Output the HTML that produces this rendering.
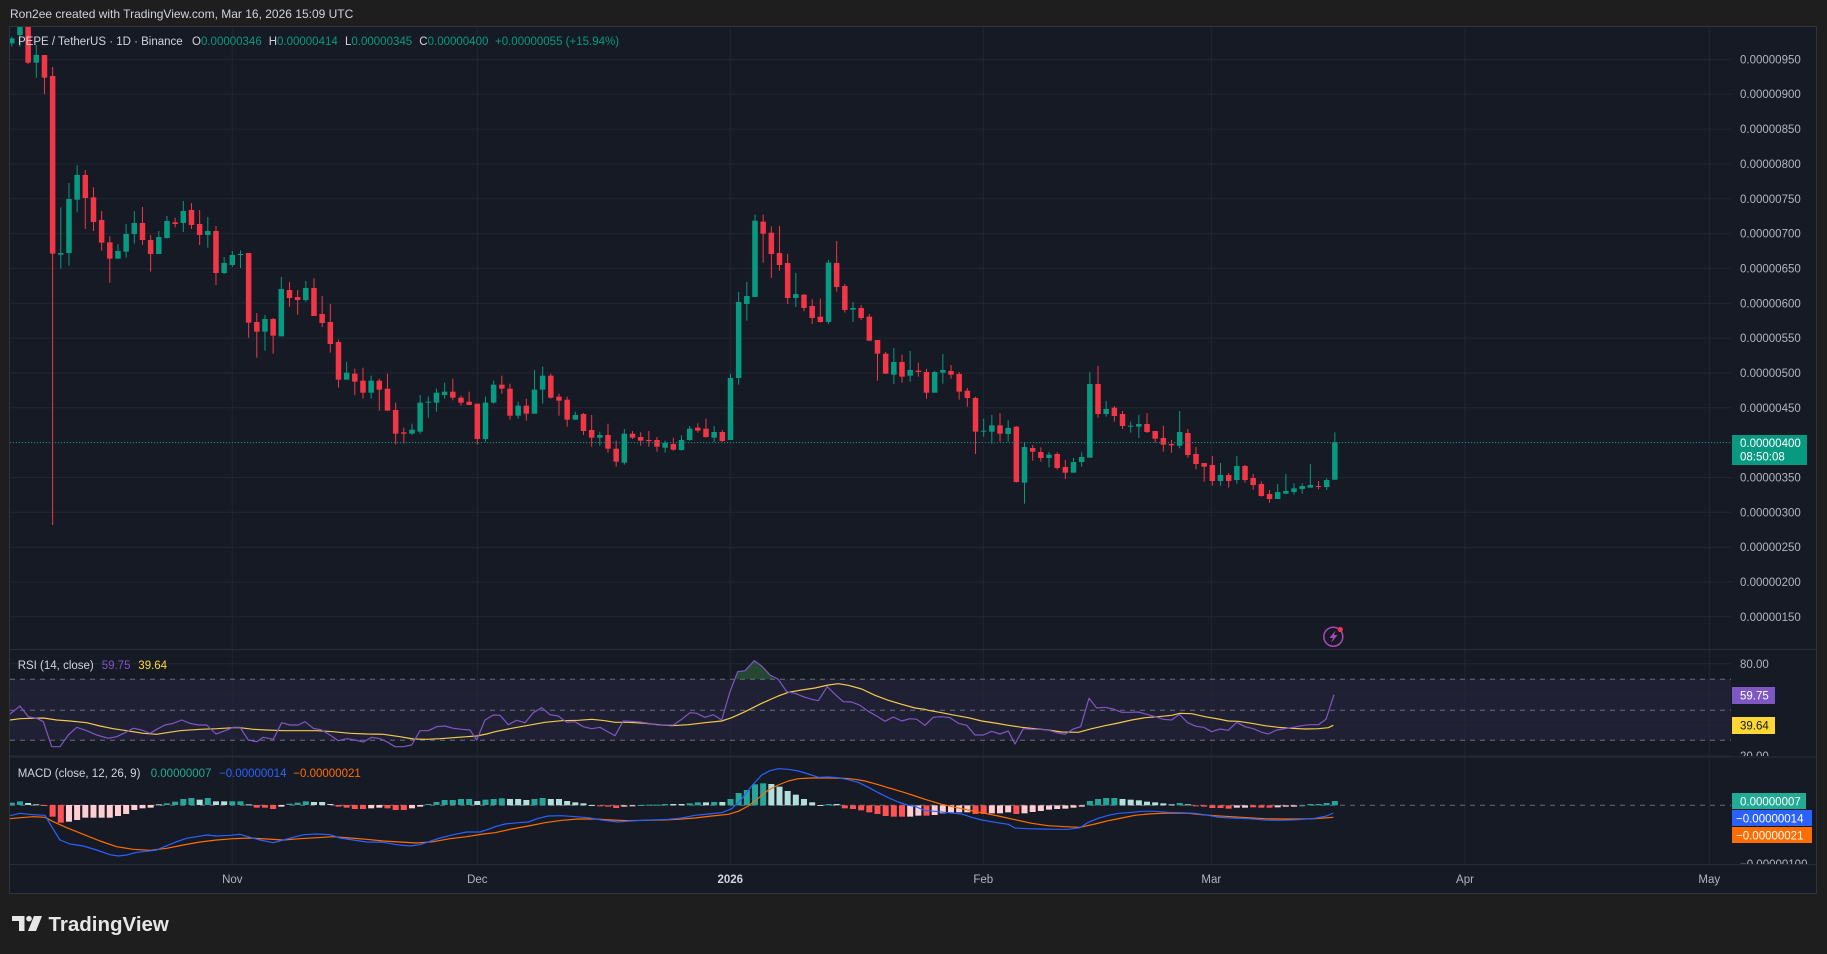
<!DOCTYPE html>
<html><head><meta charset="utf-8">
<style>
html,body{margin:0;padding:0;background:#1e1e1e;width:1827px;height:954px;overflow:hidden;}
svg{display:block}
text{font-family:"Liberation Sans",sans-serif;}
</style></head><body>
<svg id="s" width="1827" height="954" xmlns="http://www.w3.org/2000/svg">
<defs>
<clipPath id="cp"><rect x="10" y="27" width="1721" height="622"/></clipPath>
<clipPath id="cr"><rect x="10" y="650" width="1721" height="106"/></clipPath>
<clipPath id="cm"><rect x="10" y="758" width="1721" height="106"/></clipPath>
<clipPath id="ca"><rect x="1731" y="650" width="85" height="106"/></clipPath>
<clipPath id="cma"><rect x="1731" y="758" width="85" height="106"/></clipPath>
</defs>
<rect x="0" y="0" width="1827" height="954" fill="#1e1e1e"/>
<text x="10" y="18" fill="#d1d4dc" font-size="12">Ron2ee created with TradingView.com, Mar 16, 2026 15:09 UTC</text>
<rect x="9.5" y="26.5" width="1807" height="867" fill="#161a25" stroke="#30343f"/>
<!-- RSI band -->
<rect x="10" y="679.3" width="1721" height="61" fill="rgba(126,87,194,0.1)"/>
<g id="grid"></g>
<g id="candles" clip-path="url(#cp)"></g>
<line x1="10" x2="1731" y1="442.6" y2="442.6" stroke="#089981" stroke-width="1" stroke-dasharray="1,2"/>
<g id="rsi" clip-path="url(#cr)"></g>
<g id="macd" clip-path="url(#cm)"></g>

<!-- lightning icon -->
<circle cx="1333.3" cy="636.7" r="9.5" fill="none" stroke="#ab47bc" stroke-width="1.5"/>
<path d="M1335.5,630.5 L1329.5,638 L1333,638 L1331,643 L1337.5,635 L1334,635 Z" fill="#ab47bc"/>
<circle cx="1340.3" cy="629.5" r="2.6" fill="#f23645"/>

<!-- legend -->
<text x="18" y="45" font-size="11.5" fill="#d1d4dc">PEPE / TetherUS · 1D · Binance</text>
<text x="192" y="45" font-size="11.5" fill="#d1d4dc">O<tspan fill="#089981">0.00000346</tspan></text>
<text x="268.7" y="45" font-size="11.5" fill="#d1d4dc">H<tspan fill="#089981">0.00000414</tspan></text>
<text x="345" y="45" font-size="11.5" fill="#d1d4dc">L<tspan fill="#089981">0.00000345</tspan></text>
<text x="419.3" y="45" font-size="11.5" fill="#d1d4dc">C<tspan fill="#089981">0.00000400</tspan></text>
<text x="495" y="45" font-size="11.5" fill="#089981">+0.00000055 (+15.94%)</text>

<!-- price axis -->
<g font-size="11.5" fill="#b2b5be">
<text x="1740" y="63.4">0.00000950</text>
<text x="1740" y="98.2">0.00000900</text>
<text x="1740" y="133.1">0.00000850</text>
<text x="1740" y="167.9">0.00000800</text>
<text x="1740" y="202.8">0.00000750</text>
<text x="1740" y="237.6">0.00000700</text>
<text x="1740" y="272.4">0.00000650</text>
<text x="1740" y="307.3">0.00000600</text>
<text x="1740" y="342.1">0.00000550</text>
<text x="1740" y="377">0.00000500</text>
<text x="1740" y="411.8">0.00000450</text>
<text x="1740" y="481.5">0.00000350</text>
<text x="1740" y="516.3">0.00000300</text>
<text x="1740" y="551.2">0.00000250</text>
<text x="1740" y="586">0.00000200</text>
<text x="1740" y="620.8">0.00000150</text>
</g>
<rect x="1732" y="435" width="75" height="30" fill="#089981"/>
<text x="1740" y="447" font-size="11.5" fill="#ffffff">0.00000400</text>
<text x="1740" y="460.5" font-size="11.5" fill="#ffffff">08:50:08</text>

<!-- RSI axis -->
<g clip-path="url(#ca)" font-size="11.5" fill="#b2b5be">
<text x="1740" y="668">80.00</text>
<text x="1740" y="760">20.00</text>
</g>
<rect x="1732" y="687" width="43" height="17" fill="#7e57c2"/>
<text x="1740" y="699.5" font-size="11.5" fill="#ffffff">59.75</text>
<rect x="1732" y="717" width="43" height="17" fill="#fdd835"/>
<text x="1740" y="729.5" font-size="11.5" fill="#131722">39.64</text>

<!-- MACD axis -->
<g clip-path="url(#cma)" font-size="11.5" fill="#b2b5be">
<text x="1740" y="868">−0.00000100</text>
</g>
<rect x="1732" y="793" width="74" height="16" fill="#22ab94"/>
<text x="1740" y="805.5" font-size="11.5" fill="#ffffff">0.00000007</text>
<rect x="1732" y="810" width="80" height="16" fill="#2962ff"/>
<text x="1736" y="822.5" font-size="11.5" fill="#ffffff">−0.00000014</text>
<rect x="1732" y="827" width="80" height="16" fill="#ff6d00"/>
<text x="1736" y="839.5" font-size="11.5" fill="#ffffff">−0.00000021</text>

<!-- indicator legends -->
<text x="17.7" y="669" font-size="11.5" fill="#d1d4dc">RSI (14, close)</text>
<text x="101.7" y="669" font-size="11.5" fill="#7e57c2">59.75</text>
<text x="138.3" y="669" font-size="11.5" fill="#fdd835">39.64</text>
<text x="17.7" y="777" font-size="11.5" fill="#d1d4dc">MACD (close, 12, 26, 9)</text>
<text x="150.7" y="777" font-size="11.5" fill="#22ab94">0.00000007</text>
<text x="219" y="777" font-size="11.5" fill="#2962ff">−0.00000014</text>
<text x="293.3" y="777" font-size="11.5" fill="#ff6d00">−0.00000021</text>

<!-- time axis -->
<g font-size="11.5" fill="#b2b5be" text-anchor="middle">
<text x="232.3" y="883">Nov</text>
<text x="477.3" y="883">Dec</text>
<text x="730.3" y="883" font-weight="bold" fill="#d1d4dc">2026</text>
<text x="983.3" y="883">Feb</text>
<text x="1211.3" y="883">Mar</text>
<text x="1465" y="883">Apr</text>
<text x="1709.3" y="883">May</text>
</g>

<!-- TradingView logo -->
<g fill="#e6e6e6">
<path d="M12,916 L24.5,916 L24.5,931 L19,931 L19,921 L12,921 Z"/>
<circle cx="29" cy="918.7" r="2.8"/>
<path d="M34,916 L42,916 L36,931 L28,931 Z"/>
</g>
<text x="48.5" y="931" font-size="20.5" font-weight="bold" fill="#e6e6e6">TradingView</text>
</svg>
<script>
const NS='http://www.w3.org/2000/svg';
function add(p,tag,a){const e=document.createElementNS(NS,tag);for(const k in a)e.setAttribute(k,a[k]);p.appendChild(e);return e;}
const gG=document.getElementById('grid'),gC=document.getElementById('candles'),gR=document.getElementById('rsi'),gM=document.getElementById('macd');
const D=8.167,X0=11.8;const cx=i=>X0+D*i;
// grid
for(let k=0;k<=16;k++){const y=(59.4+k*34.84).toFixed(1);add(gG,'line',{x1:10,x2:1731,y1:y,y2:y,stroke:'#222632','stroke-width':1});}
[232.3,477.3,730.3,983.3,1211.3,1465,1709.3].forEach(x=>add(gG,'line',{x1:x,x2:x,y1:27,y2:864,stroke:'#222632','stroke-width':1}));
[663.8,694.3,725.3,755.8].forEach(y=>add(gG,'line',{x1:10,x2:1731,y1:y,y2:y,stroke:'#222632','stroke-width':1}));
[649.5,757,864.5].forEach(y=>add(gG,'line',{x1:10,x2:1816,y1:y,y2:y,stroke:'#2a2e39','stroke-width':1}));
[679.3,710.3,740.3].forEach(y=>add(gG,'line',{x1:10,x2:1731,y1:y,y2:y,stroke:'#6a6d78','stroke-width':1,'stroke-dasharray':'5,5'}));
add(gG,'line',{x1:10,x2:1731,y1:805.3,y2:805.3,stroke:'#6a6d78','stroke-width':1,'stroke-dasharray':'5,5'});

const A=[[0,'g',40,55,35,65],[1,'g',0,30,-10,65],[2,'r',0,113,-10,117],[3,'g',90,113,60,158],[4,'r',90,158,90,207],[5,'r',153,686,126,1500],[6,'g',684,689,547,731],[7,'g',522,684,474,722],[8,'g',450,524,420,562],[9,'r',450,519,435,612],[10,'r',517,591,487,618],[11,'r',585,653,558,677],[12,'r',652,701,634,773],[13,'g',678,701,657,701],[14,'g',627,680,597,698],[15,'g',594,627,558,656],[16,'r',594,645,546,660],[17,'r',645,687,630,740],[18,'g',636,687,618,687],[19,'g',588,639,573,641],[20,'r',592,597,578,607],[21,'g',558,594,528,621],[22,'r',555,600,534,612],[23,'r',597,630,555,660],[24,'g',618,630,576,668],[25,'r',618,744,603,780],[26,'g',714,744,696,747],[27,'g',690,720,678,726],[28,'g',687,690,676,729],[29,'r',684,893,684,938],[30,'r',891,920,864,998],[31,'g',882,920,870,977],[32,'r',882,932,879,986],[33,'g',792,934,756,934],[34,'r',795,819,771,845],[35,'r',816,825,795,869],[36,'g',789,825,768,830],[37,'r',789,873,760,873],[38,'r',867,894,813,906],[39,'r',891,957,837,983],[40,'r',951,1064,944,1088]];
const B=[[41,'g',1043,1064,1010,1064],[42,'r',1046,1070,1031,1110],[43,'r',1067,1103,1028,1121],[44,'g',1067,1103,1052,1121],[45,'r',1067,1094,1061,1157],[46,'r',1091,1157,1046,1157],[47,'r',1155,1226,1133,1258],[48,'r',1222,1226,1208,1256],[49,'g',1214,1226,1196,1230],[50,'g',1133,1220,1110,1226],[51,'g',1130,1133,1114,1178],[52,'g',1103,1133,1091,1160],[53,'g',1100,1110,1073,1121],[54,'r',1100,1118,1061,1126],[55,'r',1118,1133,1112,1142],[56,'r',1130,1140,1100,1140],[57,'r',1136,1242,1136,1259],[58,'g',1133,1242,1115,1250],[59,'g',1079,1133,1067,1136],[60,'r',1079,1091,1052,1106],[61,'r',1091,1172,1076,1184],[62,'g',1142,1172,1130,1181],[63,'r',1142,1166,1121,1187],[64,'g',1094,1166,1035,1166],[65,'g',1052,1094,1025,1136],[66,'r',1052,1118,1046,1121],[67,'r',1115,1127,1106,1172],[68,'r',1124,1184,1115,1205],[69,'g',1170,1184,1160,1184],[70,'r',1167,1218,1164,1230],[71,'r',1215,1238,1170,1265],[72,'g',1230,1238,1220,1262],[73,'r',1230,1271,1196,1283],[74,'r',1271,1310,1247,1325],[75,'g',1226,1313,1212,1319],[76,'r',1226,1238,1218,1242],[77,'r',1236,1247,1222,1262],[78,'r',1245,1248,1218,1265],[79,'r',1245,1265,1236,1280],[80,'g',1254,1268,1247,1283],[81,'r',1257,1274,1238,1277]];
const C=[[82,'g',780,810,766,812],[83,'g',746,780,738,782],[84,'r',743,752,730,758],[85,'r',746,771,716,773],[86,'g',756,773,738,786],[87,'r',756,783,750,786],[88,'g',594,780,582,780],[89,'g',366,594,336,614],[90,'g',348,372,306,422],[91,'g',122,351,104,351],[92,'r',125,161,104,248],[93,'r',158,222,139,294],[94,'r',219,255,138,272],[95,'r',249,354,222,372],[96,'g',342,354,279,381],[97,'r',344,384,342,394],[98,'r',378,414,358,432],[99,'r',410,426,356,428],[100,'g',248,426,240,432],[101,'r',249,321,183,335],[102,'r',318,390,312,398],[103,'g',384,389,366,426],[104,'r',384,414,375,420],[105,'r',410,482,402,482],[106,'r',480,521,480,602],[107,'r',521,581,516,582],[108,'g',546,584,504,612],[109,'r',546,590,524,608],[110,'g',570,587,513,605],[111,'r',572,576,548,590],[112,'r',576,638,567,656],[113,'g',576,638,573,638],[114,'g',570,578,522,611],[115,'r',573,584,555,596],[116,'r',582,635,576,659],[117,'r',632,654,624,680],[118,'r',654,755,650,822],[119,'g',752,755,716,770],[120,'g',736,755,705,791],[121,'r',736,761,699,785]];
const Dd=[[122,'g',219,237,196,260],[123,'r',215,381,213,383],[124,'g',276,383,262,446],[125,'r',279,290,270,317],[126,'r',291,309,277,320],[127,'g',299,309,291,337],[128,'r',297,339,292,344],[129,'r',336,353,315,372],[130,'g',321,353,309,353],[131,'g',306,321,292,335],[132,'g',87,308,51,308],[133,'r',87,177,33,188],[134,'g',162,177,138,185],[135,'r',158,183,153,200],[136,'r',177,213,168,222],[137,'g',212,215,200,233],[138,'g',207,215,180,249],[139,'r',207,231,174,234],[140,'r',228,251,228,263],[141,'r',249,269,212,290],[142,'r',267,271,255,293],[143,'g',231,272,168,280],[144,'r',234,300,222,308],[145,'r',297,327,276,343],[146,'r',324,335,324,380],[147,'r',330,378,303,392],[148,'g',360,378,324,392],[149,'r',360,378,354,398],[150,'g',333,375,303,386],[151,'r',333,375,330,383],[152,'r',369,390,357,404],[153,'r',387,423,379,425],[154,'r',417,432,405,443],[155,'g',411,432,387,432],[156,'g',408,416,357,418],[157,'g',400,411,385,419],[158,'g',393,402,385,416],[159,'g',390,398,327,398],[160,'r',393,396,378,403],[161,'g',375,396,370,405],[162,'g',262,374,232,375]];
[[25,A],[25,B],[180,C],[355,Dd]].forEach(([oy,arr])=>arr.forEach(c=>{
 const [i,col,bt,bb,wt,wb]=c;const x=cx(i);const color=col=='g'?'#089981':'#f23645';const y=v=>oy+v/3;
 add(gC,'rect',{x:(x-0.5).toFixed(2),y:y(wt).toFixed(2),width:1,height:Math.max(1,y(wb)-y(wt)).toFixed(2),fill:color});
 add(gC,'rect',{x:(x-2.75).toFixed(2),y:y(bt).toFixed(2),width:5.5,height:Math.max(1,y(bb)-y(bt)).toFixed(2),fill:color});
}));

function line(p,segs,color,w){const pts=[];segs.forEach(([ox,oy,arr])=>arr.forEach(([zx,zy])=>pts.push((ox+zx/3).toFixed(1)+','+(oy+zy/3).toFixed(1))));add(p,'polyline',{points:pts.join(' '),fill:'none',stroke:color,'stroke-width':w,'stroke-linejoin':'round'});}
function poly(p,ox,oy,arr,fill){add(p,'polygon',{points:arr.map(([zx,zy])=>(ox+zx/3).toFixed(1)+','+(oy+zy/3).toFixed(1)).join(' '),fill:fill});}

// RSI overbought fill
poly(gR,495,650,[[722,88],[728,65],[750,62],[778,32],[800,48],[825,75],[838,88]],'rgba(76,175,80,0.3)');
// RSI MA
line(gR,[[0,640,[[30,240],[60,236],[90,235],[130,234],[170,240],[210,243],[260,248],[300,258],[340,266],[380,272],[430,280],[470,283],[500,278],[540,272],[600,268],[650,266],[700,263],[720,263],[760,268],[800,270],[850,272],[900,272],[950,272],[1000,275],[1050,280],[1100,282],[1150,283],[1200,290],[1240,297],[1280,298],[1320,296],[1360,293],[1400,290],[1430,288],[1460,282]]],
[495,650,[[0,245],[50,235],[100,226],[150,217],[200,212],[250,211],[290,208],[330,212],[360,217],[400,217],[450,220],[500,225],[530,227],[580,224],[630,218],[680,213],[710,203],[750,185],[800,160],[850,138],[880,127],[920,120],[960,114],[1000,105],[1030,101],[1060,106],[1100,117],[1140,136],[1180,151],[1220,163],[1260,174]]],
[915,650,[[30,178],[40,181],[80,188],[120,196],[160,203],[200,213],[240,219],[280,226],[320,232],[360,236],[400,240],[440,246],[490,247],[530,236],[570,227],[610,219],[650,210],[690,203],[730,200],[770,196],[795,190],[830,191],[870,200],[910,207],[940,213],[970,214],[1010,220],[1050,227],[1090,232],[1130,235],[1170,237],[1210,236],[1240,233],[1255,226]]]],'#f2c94c',1.2);
// RSI
line(gR,[[0,640,[[30,222],[60,198],[85,230],[110,235],[130,245],[155,320],[180,320],[205,285],[230,262],[260,272],[290,285],[325,295],[350,290],[375,278],[400,265],[425,270],[450,280],[470,268],[495,255],[520,250],[545,240],[570,250],[595,255],[620,255],[648,282],[675,272],[700,262],[720,262],[745,300],[770,305],[790,292],[820,298],[845,248],[870,255],[895,255],[915,245],[940,265],[965,270],[990,285],[1015,302],[1040,296],[1065,300],[1090,306],[1115,292],[1140,296],[1160,305],[1185,320],[1210,320],[1235,315],[1260,272],[1285,272],[1310,260],[1335,258],[1360,265],[1385,268],[1410,270],[1430,300],[1455,240],[1480,225]]],
[495,650,[[15,196],[40,224],[65,211],[90,218],[115,188],[140,173],[165,194],[190,198],[215,217],[240,215],[265,230],[290,236],[315,232],[340,246],[360,257],[385,213],[410,214],[435,216],[460,220],[485,224],[510,226],[535,225],[560,208],[585,188],[605,190],[630,202],[655,194],[680,210],[705,125],[728,65],[750,62],[778,32],[800,48],[825,75],[850,88],[875,125],[900,130],[925,140],[950,148],[970,152],[997,110],[1020,133],[1045,155],[1070,156],[1095,166],[1120,184],[1145,198],[1170,214],[1195,201],[1220,213],[1245,206],[1265,208]]],
[915,650,[[30,226],[55,202],[80,200],[105,203],[130,220],[155,226],[180,255],[205,255],[230,244],[255,252],[280,243],[300,282],[325,236],[350,238],[375,238],[400,240],[425,248],[450,253],[475,237],[497,230],[522,145],[545,174],[570,172],[595,177],[620,187],[645,187],[670,186],[695,193],[720,200],[745,208],[770,210],[793,193],[818,218],[843,229],[866,232],[890,245],[915,237],[940,241],[965,217],[990,230],[1015,236],[1040,247],[1060,252],[1085,240],[1110,236],[1135,232],[1160,227],[1185,224],[1210,224],[1233,208],[1257,134]]]],'#7e57c2',1.2);

// MACD histogram
const HC={T:'#26a69a',t:'#b2dfdb',R:'#ff5252',P:'#ffcdd2'};
const H=[[640,495,'T488 T484 t489 t493 R497 R530 R548 P545 P540 P533 P533 P533 P533 P528 P522 P510 P505 P503 t493 T490 T485 T477 T474 t479 T474 t484 t484 T484 T484 t493 R503 R503 R507 P500 T491 T488 T484 t486 t486 t492 R500 R503 R507 R507 P505 P503 R505 R510 R510 P505 P500 T492 T486 T480 T480 T477 T477 t483 T479 T477',0],
[650,466,'T445 t447 t447 t450 T447 T444 t447 t447 t453 t457 t460 t465 R468 R470 R474 P470 P469 T465 T464 T464 T462 t462 t462 T460 T457 t457 T456 t456 T447 T429 T420 T403 T400 t402 t410 t423 t434 t447 t457 t465 T462 t462 R475 R477 R481 R487 R492 R498 R500 R500 P500',60],
[650,466,'P497 R497 P495 P490 P487 P487 P487 R492 R492 P490 P490 P487 R492 P490 P486 P483 P479 P477 P476 P473 P470 T453 T447 T444 T444 t447 t449 t451 t455 t457 t460 t463 T459 t463 R468 R470 R474 R474 R476 P473 P473 R472 R473 R473 P472 P470 P470 T466 T462 T462 T459 T453',111]];
H.forEach(([oy,z,str,start])=>{str.split(' ').forEach((s,k)=>{const i=start+k;const col=HC[s[0]];const v=+s.slice(1);const y=oy+v/3,y0=oy+z/3;const top=Math.min(y,y0),h=Math.max(1,Math.abs(y-y0));add(gM,'rect',{x:(cx(i)-3).toFixed(2),y:top.toFixed(2),width:6,height:h.toFixed(2),fill:col});});});

// MACD signal
line(gM,[[0,640,[[30,536],[60,533],[100,530],[135,532],[160,545],[200,563],[250,583],[300,603],[350,620],[400,628],[450,631],[500,625],[550,615],[600,606],[650,600],[700,596],[750,594],[800,597],[850,600],[900,596],[950,593],[1000,590],[1050,594],[1100,598],[1150,603],[1200,606],[1250,609],[1300,605],[1350,596],[1400,590],[1450,582]]],
[495,650,[[0,548],[50,537],[100,528],[150,518],[200,511],[250,507],[300,507],[350,510],[400,512],[450,511],[500,510],[550,508],[600,504],[650,498],[700,493],[730,484],[760,468],[790,445],[820,420],[850,405],[880,393],[910,386],[950,384],[1000,384],[1050,385],[1080,388],[1110,393],[1150,404],[1190,416],[1230,428],[1260,438]]],
[915,650,[[30,448],[40,451],[80,463],[120,472],[160,480],[200,488],[250,498],[300,509],[350,520],[400,527],[450,530],[495,532],[540,522],[580,512],[620,504],[660,496],[700,492],[740,490],[780,489],[820,490],[860,494],[900,497],[950,500],[1000,503],[1050,506],[1100,507],[1150,507],[1200,506],[1240,503],[1255,502]]]],'#ff6d00',1.2);
// MACD line
line(gM,[[0,640,[[30,527],[60,520],[100,524],[135,526],[155,560],[180,600],[210,612],[250,618],[290,630],[330,644],[355,648],[380,645],[410,637],[440,634],[470,630],[500,617],[530,605],[560,595],[590,590],[620,585],[650,588],[690,586],[720,583],[750,592],[780,600],[820,608],[850,600],[880,592],[910,584],[950,582],[990,584],[1020,594],[1060,600],[1100,606],[1150,607],[1190,614],[1230,618],[1260,614],[1290,604],[1320,594],[1360,584],[1400,576],[1440,576],[1470,566]]],
[495,650,[[0,530],[30,522],[70,518],[100,516],[130,505],[160,498],[200,497],[240,500],[280,503],[320,510],[370,516],[420,512],[470,510],[520,508],[560,504],[600,496],[640,492],[680,488],[710,476],[740,447],[770,408],[800,375],[825,362],[850,356],[880,358],[910,363],[940,372],[970,382],[1000,381],[1030,383],[1060,389],[1090,397],[1120,412],[1150,428],[1180,443],[1210,456],[1240,466],[1260,469]]],
[915,650,[[30,482],[60,484],[100,488],[140,492],[170,502],[200,510],[240,517],[280,523],[300,534],[340,536],[380,537],[420,538],[460,538],[495,533],[520,517],[550,505],[580,496],[610,490],[640,488],[680,484],[720,484],[760,487],[800,488],[840,490],[880,496],[910,502],[950,504],[1000,506],[1050,510],[1100,511],[1150,509],[1200,505],[1235,498],[1255,489]]]],'#2962ff',1.2);
</script>
</body></html>
